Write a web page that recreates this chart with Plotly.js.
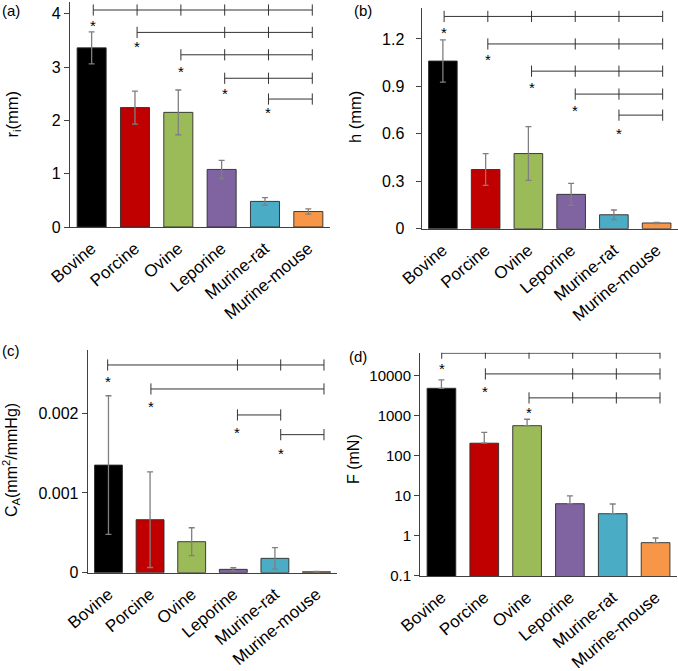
<!DOCTYPE html>
<html>
<head>
<meta charset="utf-8">
<script src="https://cdn.plot.ly/plotly-3.0.1.min.js"></script>
<style>html,body{margin:0;padding:0;background:#fff;}#chart{width:678px;height:671px;}</style>
</head>
<body>
<div id="chart"></div>
<script>
// ---- data ----
const categories = ['Bovine', 'Porcine', 'Ovine', 'Leporine', 'Murine-rat', 'Murine-mouse'];
const barColors = ['#000000', '#C00000', '#9BBB59', '#8064A2', '#4BACC6', '#F79646'];

const radius = [3.36, 2.24, 2.15, 1.08, 0.48, 0.29];
const radiusErr = [0.30, 0.31, 0.42, 0.17, 0.07, 0.05];

const thickness = [1.06, 0.374, 0.475, 0.217, 0.088, 0.036];
const thicknessErr = [0.134, 0.10, 0.17, 0.07, 0.03, 0.004];

const compliance = [0.00135, 0.000665, 0.000389, 0.000042, 0.00018, 0.000012];
const complianceErr = [0.00087, 0.0006, 0.000175, 0.00002, 0.000134, 0.000003];

const force = [4900, 208, 570, 6.4, 3.6, 0.68];
const forceErrPlus = [3040, 182, 255, 3.7, 2.7, 0.21];

// significance brackets: group indices joined, bracket level, asterisk level
const sigA = [
  {ticks: [0, 1, 2, 3, 4, 5], level: 4.07, star: 3.86},
  {ticks: [1, 3, 4, 5], level: 3.65, star: 3.46},
  {ticks: [2, 3, 4, 5], level: 3.23, star: 2.99},
  {ticks: [3, 4, 5], level: 2.79, star: 2.58},
  {ticks: [4, 5], level: 2.40, star: 2.22}
];
const sigB = [
  {ticks: [0, 1, 2, 3, 4, 5], level: 1.342, star: 1.267},
  {ticks: [1, 3, 4, 5], level: 1.168, star: 1.095},
  {ticks: [2, 3, 4, 5], level: 0.996, star: 0.916},
  {ticks: [3, 4, 5], level: 0.851, star: 0.773},
  {ticks: [4, 5], level: 0.718, star: 0.628}
];
const sigC = [
  {ticks: [0, 3, 4, 5], level: 0.002606, star: 0.00245},
  {ticks: [1, 5], level: 0.002305, star: 0.00214},
  {ticks: [3, 4], level: 0.001979, star: 0.00181},
  {ticks: [4, 5], level: 0.001732, star: 0.00155}
];
const sigD = [
  {ticks: [0, 1, 2, 3, 4, 5], level: 37000, star: 18800},
  {ticks: [1, 3, 4, 5], level: 11200, star: 5100},
  {ticks: [2, 3, 4, 5], level: 2820, star: 1500}
];

const yTicksC = [0, 0.001, 0.002];
const yTickTextC = ['0', '0.001', '0.002'];
const yTicksD = [0.1, 1, 10, 100, 1000, 10000];
const yTickTextD = ['0.1', '1', '10', '100', '1000', '10000'];

// ---- styling ----
const FONT = 'Arial, "Liberation Sans", sans-serif';
const axisColor = '#404040';
const sigColor = '#333333';
const errColor = '#7f7f7f';

const traces = [];
const annotations = [];

function addPanel(n, values, err, errPlusOnly, sig, sigAxis, isLog) {
  const xa = 'x' + n, ya = 'y' + n;
  const e = errPlusOnly
    ? {type: 'data', symmetric: false, array: err, arrayminus: err.map(() => 0), color: errColor, thickness: 1.3, width: 3}
    : {type: 'data', array: err, color: errColor, thickness: 1.3, width: 3};
  traces.push({
    type: 'bar', x: categories, y: values, xaxis: xa, yaxis: ya,
    marker: {color: barColors, line: {color: '#2b2b2b', width: 0.9}},
    error_y: e, hoverinfo: 'x+y'
  });
  sig.forEach(row => {
    traces.push({
      type: 'scatter', mode: 'lines+markers', xaxis: sigAxis, yaxis: ya,
      x: row.ticks, y: row.ticks.map(() => row.level),
      line: {color: sigColor, width: 1},
      marker: {symbol: 'line-ns', size: 8, line: {color: sigColor, width: 1}},
      hoverinfo: 'skip'
    });
    annotations.push({
      xref: sigAxis, yref: ya, x: row.ticks[0], y: isLog ? Math.log10(row.star) : row.star, text: '*',
      showarrow: false, yshift: -4, xanchor: 'center', yanchor: 'middle',
      font: {family: FONT, size: 15, color: '#000000'}
    });
  });
}

addPanel(1, radius, radiusErr, false, sigA, 'x5', false);
addPanel(2, thickness, thicknessErr, false, sigB, 'x6', false);
addPanel(3, compliance, complianceErr, false, sigC, 'x7', false);
addPanel(4, force, forceErrPlus, true, sigD, 'x8', true);

function xAxis(domain, anchor) {
  return {
    domain: domain, anchor: anchor, type: 'category', range: [-0.5, 5.5],
    showline: true, linecolor: axisColor, linewidth: 1,
    ticks: 'outside', ticklen: 4, tickcolor: 'rgba(0,0,0,0)',
    tickangle: -40, tickfont: {family: FONT, size: 17, color: '#000'},
    showgrid: false, zeroline: false, fixedrange: true
  };
}
function yAxis(domain, anchor, extra) {
  return Object.assign({
    domain: domain, anchor: anchor,
    showline: true, linecolor: axisColor, linewidth: 1,
    ticks: 'outside', ticklen: 5, tickcolor: axisColor,
    tickfont: {family: FONT, size: 16, color: '#000'},
    showgrid: false, zeroline: false, fixedrange: true
  }, extra);
}
function sigAxisDef(over, range) {
  return {overlaying: over, anchor: over.replace('x', 'y'), range: range, visible: false, fixedrange: true};
}
function label(x, y, text, size, angle, xanchor) {
  return {xref: 'paper', yref: 'paper', x: x / 678, y: 1 - y / 671, text: text,
    textangle: angle, showarrow: false, xanchor: xanchor, yanchor: 'middle',
    font: {family: FONT, size: size, color: '#000'}};
}

const layout = {
  width: 678, height: 671,
  margin: {l: 0, r: 0, t: 0, b: 0},
  paper_bgcolor: '#fff', plot_bgcolor: 'rgba(0,0,0,0)',
  showlegend: false, bargap: 0.33,
  font: {family: FONT, color: '#000'},
  xaxis: xAxis([0.1032, 0.4867], 'y'),
  yaxis: yAxis([0.6617, 0.997], 'x', {range: [0, 4.22], dtick: 1}),
  xaxis2: xAxis([0.6217, 1.0], 'y2'),
  yaxis2: yAxis([0.6592, 0.988], 'x2', {range: [0, 1.395], dtick: 0.3, ticklabelstandoff: 8}),
  xaxis3: xAxis([0.1293, 0.4975], 'y3'),
  yaxis3: yAxis([0.1465, 0.4784], 'x3', {range: [0, 0.002794], tickvals: yTicksC, ticktext: yTickTextC}),
  xaxis4: xAxis([0.6195, 0.9985], 'y4'),
  yaxis4: yAxis([0.1416, 0.4744], 'x4', {type: 'log', range: [-1, 4.58], tickvals: yTicksD, ticktext: yTickTextD, tickfont: {family: FONT, size: 15, color: '#000'}}),
  xaxis5: sigAxisDef('x', [-0.532, 5.404]),
  xaxis6: sigAxisDef('x2', [-0.517, 5.351]),
  xaxis7: sigAxisDef('x3', [-0.462, 5.308]),
  xaxis8: sigAxisDef('x4', [-0.497, 5.389]),
  annotations: annotations.concat([
    label(12.5, 114, 'r<sub>i</sub>(mm)', 16.5, -90, 'center'),
    label(355, 117, 'h (mm)', 16.5, -90, 'center'),
    label(11, 460, 'C<sub>A</sub>(mm<sup>2</sup>/mmHg)', 16, -90, 'center'),
    label(353, 459, 'F (mN)', 16, -90, 'center'),
    label(0, 10, '(a)', 15, 0, 'left'),
    label(352, 10, '(b)', 15, 0, 'left'),
    label(0, 350, '(c)', 15, 0, 'left'),
    label(347, 356, '(d)', 15, 0, 'left')
  ])
};

Plotly.newPlot('chart', traces, layout, {displayModeBar: false, staticPlot: true});
</script>
</body>
</html>
